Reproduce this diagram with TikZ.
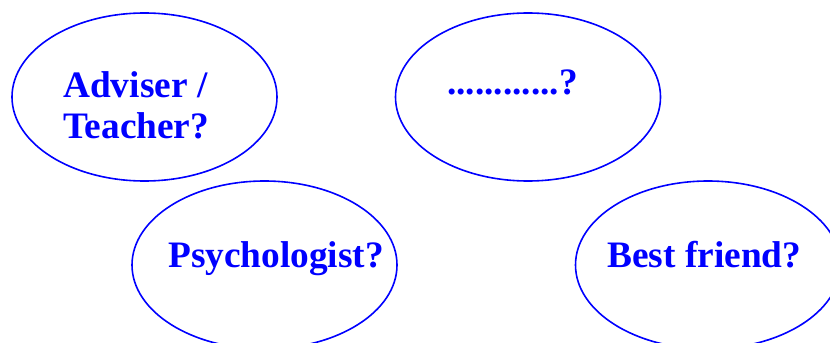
\documentclass[tikz,border=0pt]{standalone}
\usepackage{fontspec}
\setmainfont{Liberation Serif}
\usetikzlibrary{shapes.geometric}

\begin{document}
\begin{tikzpicture}[x=0.75pt,y=-0.75pt,
  bulle/.style={draw=blue,line width=1.2pt,ellipse,minimum width=198.75pt,minimum height=126pt,inner sep=0pt},
  texte/.style={text=blue,font=\fontsize{28}{30.75}\selectfont\bfseries,anchor=base west,inner sep=0pt,align=left}]

\useasboundingbox (0,0) rectangle (830,342);

% Adviser / Teacher
\node[bulle] (adviser) at (144.5,97) {};
\node[texte] (advisertxt) at (63,138) {Adviser /\\Teacher?};

% ............?
\node[bulle] (autre) at (528,97) {};
\node[texte] (autretxt) at (447,95) {............?};

% Psychologist
\node[bulle] (psy) at (264.5,265) {};
\node[texte] (psytxt) at (168,267) {Psychologist?};

% Best friend
\node[bulle] (ami) at (708,265) {};
\node[texte] (amitxt) at (607,267) {Best friend?};

\end{tikzpicture}
\end{document}
